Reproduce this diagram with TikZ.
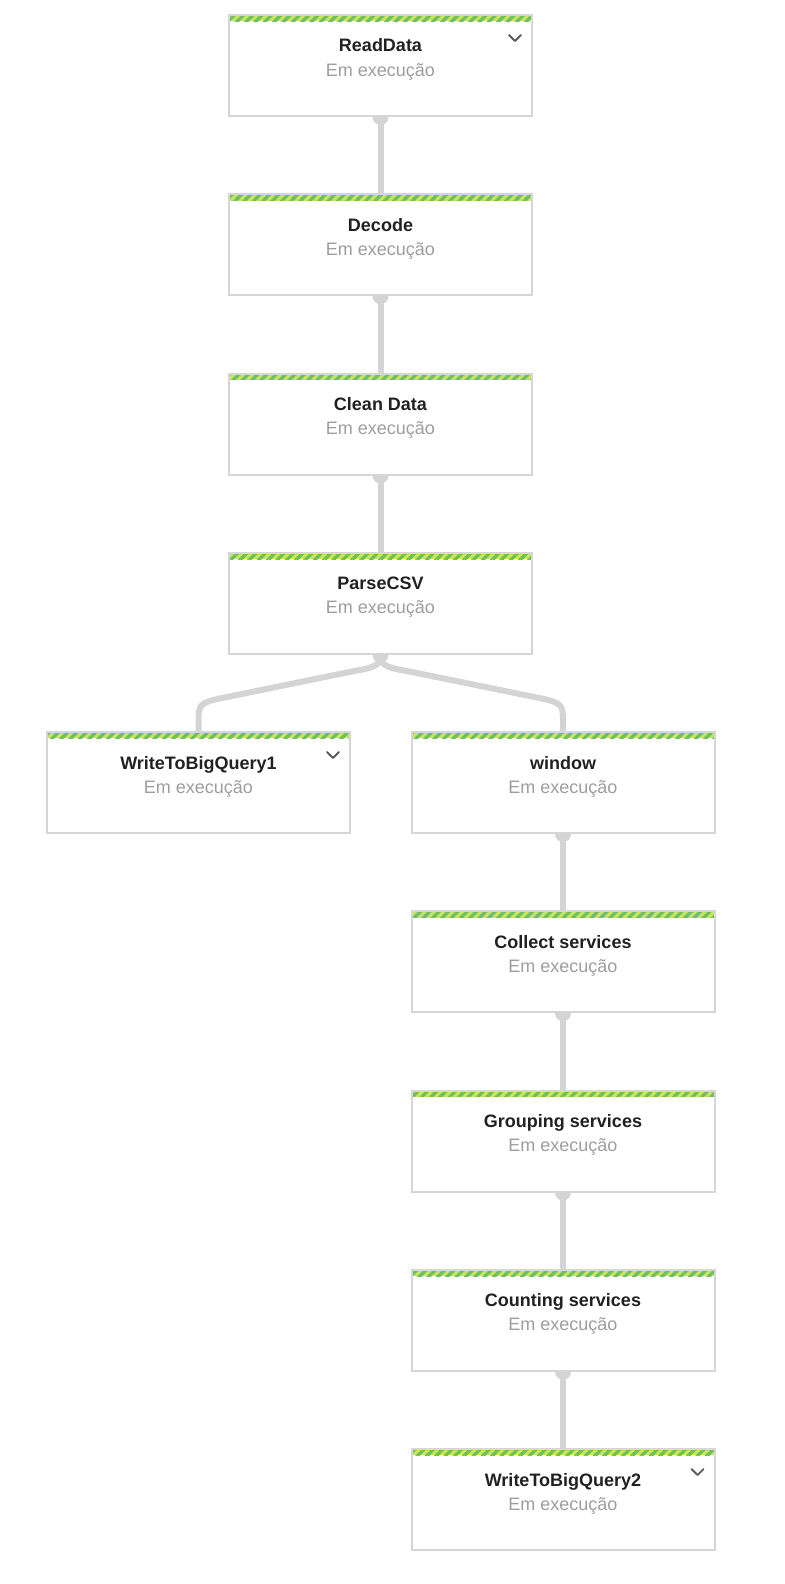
\documentclass[tikz,border=0pt]{standalone}
\usepackage{fontspec}
\setmainfont{Liberation Sans}
\usetikzlibrary{calc,patterns.meta}

\definecolor{wiregray}{RGB}{212,212,212}
\definecolor{boxgray}{RGB}{214,214,214}
\definecolor{stripedark}{RGB}{112,190,100}
\definecolor{stripelight}{RGB}{200,230,92}
\definecolor{statusgray}{RGB}{158,158,158}
\definecolor{titleblack}{RGB}{33,33,33}
\definecolor{chevgray}{RGB}{90,90,90}

\pgfdeclarelayer{background}
\pgfsetlayers{background,main}

\tikzset{
  stagebox/.style={draw=boxgray, line width=1pt, fill=white, inner sep=0pt,
    minimum width=151.5pt, minimum height=50.5pt,
    path picture={
      \fill[stripelight] (path picture bounding box.north west)
        rectangle ([yshift=-3.2pt]path picture bounding box.north east);
      \fill[pattern={Lines[angle=45,distance=3.3pt,line width=1.65pt]},
        pattern color=stripedark] (path picture bounding box.north west)
        rectangle ([yshift=-3.2pt]path picture bounding box.north east);
    }},
  stagetitle/.style={anchor=base, inner sep=0pt, text=titleblack,
    font=\bfseries\fontsize{9pt}{11pt}\selectfont},
  stagestatus/.style={anchor=base, inner sep=0pt, text=statusgray,
    font=\fontsize{9pt}{11pt}\selectfont},
  wire/.style={draw=wiregray, line width=3pt},
  knob/.style={fill=wiregray},
  chevron/.style={draw=chevgray, line width=0.9pt, line cap=round, line join=round}
}

\begin{document}
\begin{tikzpicture}[x=0.5pt, y=-0.5pt]

  % page
  \useasboundingbox (0,0) rectangle (784,1584);
  \begin{pgfonlayer}{background}
    \fill[white] (0,0) rectangle (784,1584);
  \end{pgfonlayer}

  % stages, left column
  \node [stagebox] (rd)  at (380.5,   65.5)  {};
  \node [stagebox] (dc)  at (380.5,  244.75) {};
  \node [stagebox] (cd)  at (380.5,  424)    {};
  \node [stagebox] (pc)  at (380.5,  603.25) {};
  \node [stagebox] (wb1) at (198.5,  782.5)  {};

  % stages, right column
  \node [stagebox] (wi)  at (563,    782.5)  {};
  \node [stagebox] (cs)  at (563,    961.75) {};
  \node [stagebox] (gs)  at (563,   1141)    {};
  \node [stagebox] (cn)  at (563,   1320.25) {};
  \node [stagebox] (wb2) at (563,   1499.5)  {};

  % stage names and status
  \foreach \n/\t in {rd/ReadData, dc/Decode, cd/Clean Data, pc/ParseCSV,
                     wb1/WriteToBigQuery1, wi/window, cs/Collect services,
                     gs/Grouping services, cn/Counting services,
                     wb2/WriteToBigQuery2} {
    \node [stagetitle]  (\n-title)  at ($(\n.north)+(0,38)$) {\t};
    \node [stagestatus] (\n-status) at ($(\n.north)+(0,62)$) {Em execução};
  }

  % expand chevrons
  \foreach \n in {rd, wb1, wb2}
    \draw [chevron] ($(\n.north east)+(-24,21)$) -- ++(6,6) -- ++(6,-6);

  % connectors
  \begin{pgfonlayer}{background}
    \foreach \a/\b in {rd/dc, dc/cd, cd/pc, wi/cs, cs/gs, gs/cn, cn/wb2} {
      \draw [wire]  (\a.south) -- (\b.north);
      \fill [knob]  (\a.south) circle [radius=4pt];
    }
    % split after ParseCSV
    \fill [knob]  (pc.south) circle [radius=4pt];
    \draw [wire]  (pc.south) .. controls +(0,12) and +(22,-4) .. ++(-30,17)
                  -- ++(-132,27) .. controls +(-18,4) and +(0,-13) .. ++(-20,20)
                  -- (wb1.north);
    \draw [wire]  (pc.south) .. controls +(0,12) and +(-22,-4) .. ++(30,17)
                  -- ++(132.5,27) .. controls +(18,4) and +(0,-13) .. ++(20,20)
                  -- (wi.north);
  \end{pgfonlayer}

\end{tikzpicture}
\end{document}
